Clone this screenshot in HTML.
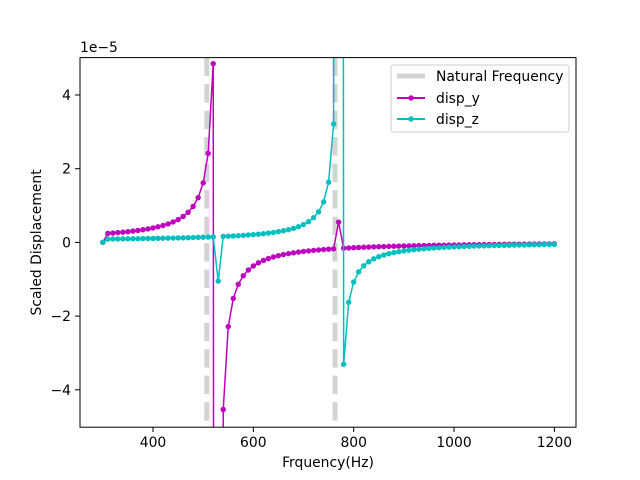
<!DOCTYPE html>
<html><head><meta charset="utf-8"><style>html,body{margin:0;padding:0;background:#fff;overflow:hidden;width:640px;height:480px;position:relative}svg{display:block;position:absolute;left:0;top:0}text{font-family:"DejaVu Sans","Liberation Sans",sans-serif;fill:#000}</style></head>
<body>
<svg id="s" width="640" height="480" viewBox="0 0 640 480" xmlns="http://www.w3.org/2000/svg">
<defs><clipPath id="c"><rect x="80" y="57.6" width="496" height="369.6"/></clipPath></defs>
<rect width="640" height="480" fill="#fff"/>
<g clip-path="url(#c)">
<line x1="206.8" y1="57.6" x2="206.8" y2="427.2" stroke="#d3d3d3" stroke-width="5" stroke-dasharray="18.5,8"/>
<line x1="335" y1="57.6" x2="335" y2="427.2" stroke="#d3d3d3" stroke-width="5" stroke-dasharray="18.5,8"/>
<g id="series"></g>
</g>
<rect x="80" y="57.6" width="496" height="369.6" fill="none" stroke="#000" stroke-width="1"/>
<g stroke="#000" stroke-width="1">
<line x1="153" y1="427.2" x2="153" y2="432"/><line x1="253.3" y1="427.2" x2="253.3" y2="432"/><line x1="353.7" y1="427.2" x2="353.7" y2="432"/><line x1="454" y1="427.2" x2="454" y2="432"/><line x1="554.4" y1="427.2" x2="554.4" y2="432"/>
<line x1="75" y1="95" x2="80" y2="95"/><line x1="75" y1="168.7" x2="80" y2="168.7"/><line x1="75" y1="242.4" x2="80" y2="242.4"/><line x1="75" y1="316.1" x2="80" y2="316.1"/><line x1="75" y1="389.8" x2="80" y2="389.8"/>
</g>
<g font-size="13.9" text-anchor="middle">
<text x="153" y="447">400</text><text x="253.3" y="447">600</text><text x="353.7" y="447">800</text><text x="454" y="447">1000</text><text x="554.4" y="447">1200</text>
</g>
<g font-size="13.9" text-anchor="end">
<text x="71" y="100">4</text><text x="71" y="173.7">2</text><text x="71" y="247.4">0</text><text x="71" y="321.1">−2</text><text x="71" y="394.8">−4</text>
</g>
<text x="80" y="52" font-size="13.9">1e−5</text>
<text x="328" y="467" font-size="13.9" text-anchor="middle">Frquency(Hz)</text>
<text transform="translate(41,242.4) rotate(-90)" font-size="13.9" text-anchor="middle">Scaled Displacement</text>
<rect x="391" y="65" width="178" height="67" rx="3" fill="#fff" fill-opacity="0.8" stroke="#ccc"/>
<line x1="397" y1="76" x2="425" y2="76" stroke="#d3d3d3" stroke-width="5"/>
<line x1="397" y1="98" x2="425" y2="98" stroke="#bf00bf" stroke-width="2"/><circle cx="411" cy="98" r="2.7" fill="#bf00bf"/>
<line x1="397" y1="119" x2="425" y2="119" stroke="#00bfbf" stroke-width="2"/><circle cx="411" cy="119" r="2.7" fill="#00bfbf"/>
<text x="436" y="81" font-size="13.9">Natural Frequency</text>
<text x="436" y="103" font-size="13.9">disp_y</text>
<text x="436" y="124" font-size="13.9">disp_z</text>
</svg>
<script>
(function(){
var X=function(f){return 153+(f-400)*0.5017;},Y=function(v){return 242.4-v*36.85;};
var my=[],cz=[];
for(var f=300;f<=1200;f+=10){
 var a=47/(529.7-f)+0.03, b=32.6/(770.2-f)+0.02;
 if(f==300){a=0;b=0;}
 if(f==770)a=0.55;
 if(f==530)b=-1.05;
 if(f==520)a=4.85;
 my.push([f,a]);cz.push([f,b]);
}
var ns="http://www.w3.org/2000/svg",g=document.getElementById("series");
var TOP=50,BOT=435;
function draw(d,col){
 var pts=d.map(function(q){return [X(q[0]),Y(q[1])];});
 var p="";
 for(var i=0;i<pts.length-1;i++){
  var x1=pts[i][0],y1=pts[i][1],x2=pts[i+1][0],y2=pts[i+1][1];
  var t0=0,t1=1,dy=y2-y1;
  if(dy!==0){
   var ta=(TOP-y1)/dy,tb=(BOT-y1)/dy;
   var lo=Math.min(ta,tb),hi=Math.max(ta,tb);
   t0=Math.max(t0,lo);t1=Math.min(t1,hi);
  } else if(y1<TOP||y1>BOT) continue;
  if(t0>t1) continue;
  var ax=x1+(x2-x1)*t0,ay=y1+dy*t0,bx=x1+(x2-x1)*t1,by=y1+dy*t1;
  p+="M"+ax.toFixed(2)+","+ay.toFixed(2)+"L"+bx.toFixed(2)+","+by.toFixed(2);
 }
 var pa=document.createElementNS(ns,"path");pa.setAttribute("d",p);pa.setAttribute("fill","none");pa.setAttribute("stroke",col);pa.setAttribute("stroke-width","1.5");pa.setAttribute("stroke-linejoin","round");g.appendChild(pa);
 pts.forEach(function(q){if(q[1]<TOP||q[1]>BOT)return;var c=document.createElementNS(ns,"circle");c.setAttribute("cx",q[0]);c.setAttribute("cy",q[1]);c.setAttribute("r","2.7");c.setAttribute("fill",col);g.appendChild(c);});
}
draw(my,"#bf00bf");draw(cz,"#00bfbf");
})();
</script>
</body></html>
